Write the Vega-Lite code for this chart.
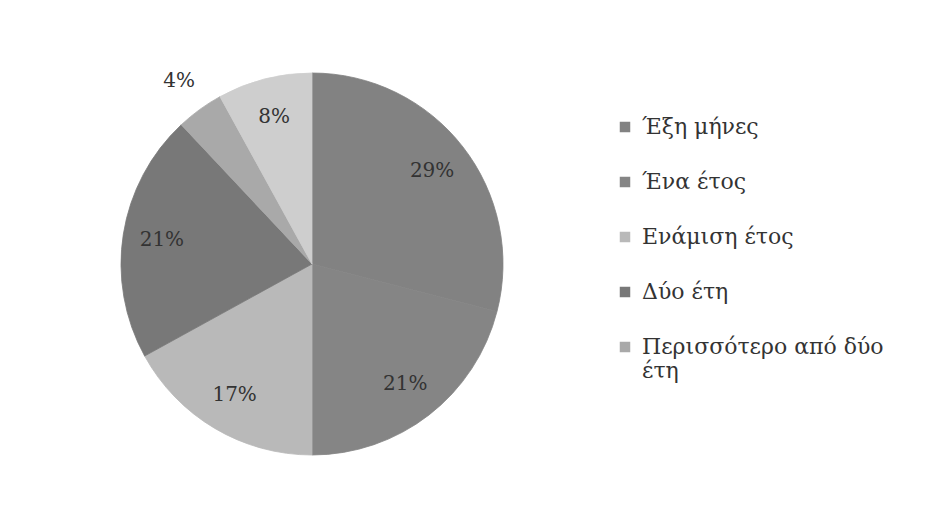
{
  "$schema": "https://vega.github.io/schema/vega-lite/v6.json",
  "autosize": "none",
  "width": 624,
  "height": 490,
  "padding": {"left": 0, "top": 19, "right": 301, "bottom": 1},
  "background": "white",
  "config": {"view": {"stroke": null}},
  "data": {
    "values": [
      {"category": "Έξη μήνες", "share": 0.29, "rank": 1},
      {"category": "Ένα έτος", "share": 0.21, "rank": 2},
      {"category": "Ενάμιση έτος", "share": 0.17, "rank": 3},
      {"category": "Δύο έτη", "share": 0.21, "rank": 4},
      {"category": "Περισσότερο από δύο έτη", "share": 0.04, "rank": 5},
      {"category": "Άλλο", "share": 0.08, "rank": 6}
    ]
  },
  "transform": [
    {"stack": "share", "groupby": [], "sort": [{"field": "rank", "order": "ascending"}], "as": ["s0", "s1"]},
    {"calculate": "(datum.s0 + datum.s1) / 2", "as": "mid"}
  ],
  "layer": [
    {
      "mark": {"type": "arc", "outerRadius": 191, "strokeWidth": 0.8},
      "encoding": {
        "theta": {"field": "s0", "type": "quantitative", "scale": {"domain": [0, 1]}},
        "theta2": {"field": "s1"},
        "stroke": {"field": "category", "type": "nominal", "legend": null,
          "scale": {
            "domain": ["Έξη μήνες", "Ένα έτος", "Ενάμιση έτος", "Δύο έτη", "Περισσότερο από δύο έτη", "Άλλο"],
            "range": ["#828282", "#858585", "#b9b9b9", "#787878", "#a9a9a9", "#cecece"]
          }
        },
        "color": {
          "field": "category",
          "type": "nominal",
          "scale": {
            "domain": ["Έξη μήνες", "Ένα έτος", "Ενάμιση έτος", "Δύο έτη", "Περισσότερο από δύο έτη", "Άλλο"],
            "range": ["#828282", "#858585", "#b9b9b9", "#787878", "#a9a9a9", "#cecece"]
          },
          "legend": {
            "title": null,
            "values": ["Έξη μήνες", "Ένα έτος", "Ενάμιση έτος", "Δύο έτη", "Περισσότερο από δύο έτη"],
            "orient": "none",
            "legendX": 614,
            "legendY": 97,
            "symbolType": "square",
            "symbolSize": 110,
            "symbolStrokeWidth": 0,
            "labelFont": "DejaVu Serif",
            "labelFontSize": 22,
            "labelColor": "#333333",
            "labelOffset": 6,
            "labelLimit": 400,
            "rowPadding": 33,
            "labelBaseline": "middle",
            "labelExpr": "datum.label == 'Περισσότερο από δύο έτη' ? ['Περισσότερο από δύο', 'έτη'] : datum.label"
          }
        }
      }
    },
    {
      "transform": [{"filter": "datum.rank != 5"}],
      "mark": {"type": "text", "radius": 152, "font": "DejaVu Serif", "fontSize": 20, "color": "#333333"},
      "encoding": {
        "theta": {"field": "mid", "type": "quantitative", "scale": {"domain": [0, 1]}},
        "text": {"field": "share", "type": "quantitative", "format": ".0%"}
      }
    },
    {
      "transform": [{"filter": "datum.rank == 5"}],
      "mark": {"type": "text", "radius": 226, "font": "DejaVu Serif", "fontSize": 20, "color": "#333333"},
      "encoding": {
        "theta": {"field": "mid", "type": "quantitative", "scale": {"domain": [0, 1]}},
        "text": {"field": "share", "type": "quantitative", "format": ".0%"}
      }
    }
  ]
}
